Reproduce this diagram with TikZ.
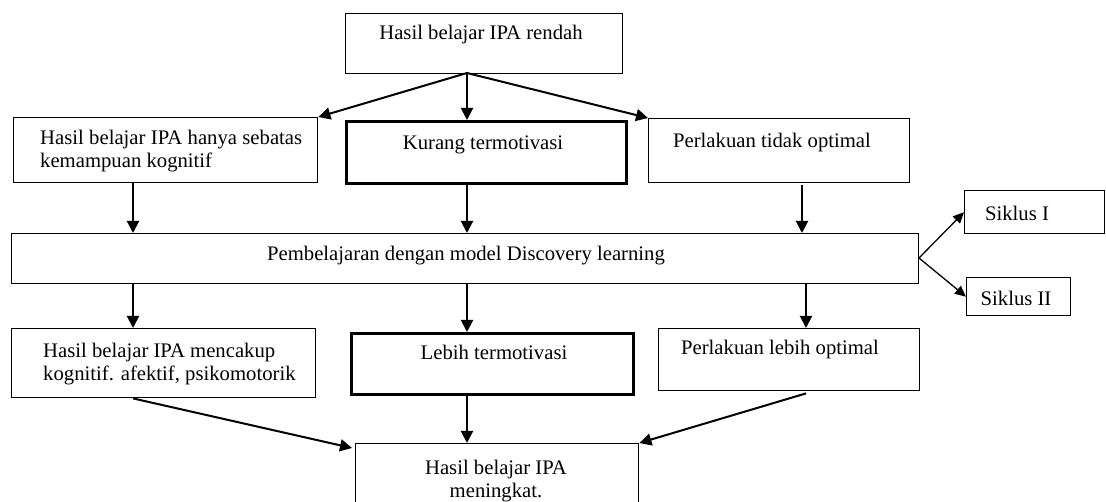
\documentclass[tikz,border=0pt]{standalone}
\usepackage{fontspec}
\setmainfont{Liberation Serif}
\usetikzlibrary{arrows.meta}
\begin{document}
\begin{tikzpicture}[x=1pt,y=-1pt,
  box/.style={draw=black,line width=1.4pt,anchor=north west,inner sep=0pt},
  thickbox/.style={box,line width=2.6pt},
  txt/.style={inner sep=0pt,font=\fontsize{20.7}{23.5}\selectfont},
  arr/.style={line width=2pt,-{Triangle[length=12pt,width=12pt]}},
  sarr/.style={line width=1.3pt,-{Triangle[length=11pt,width=10pt]}}]
\useasboundingbox[fill=white] (0,0) rectangle (1106,502);
% boxes
\node[box,minimum width=277pt,minimum height=60pt] (top) at (345,13) {};
\node[box,minimum width=304pt,minimum height=65pt] (L1) at (13,117) {};
\node[thickbox,minimum width=280pt,minimum height=62pt] (M1) at (345,120) {};
\node[box,minimum width=261pt,minimum height=64pt] (R1) at (648,118) {};
\node[box,minimum width=907pt,minimum height=50pt] (main) at (11,233) {};
\node[box,minimum width=140pt,minimum height=43pt] (s1) at (964,190) {};
\node[box,minimum width=104pt,minimum height=38pt] (s2) at (966,277) {};
\node[box,minimum width=304pt,minimum height=69pt] (L3) at (11,328) {};
\node[thickbox,minimum width=282pt,minimum height=61pt] (M3) at (350,332) {};
\node[box,minimum width=261pt,minimum height=62pt] (R3) at (658,328) {};
\node[box,minimum width=283pt,minimum height=62pt] (bot) at (355,443) {};
% texts
\node[txt] (topt) at (481,35) {Hasil belajar IPA rendah};
\node[txt,anchor=west,align=left] (L1t) at (40,151) {\makebox[262pt][s]{Hasil belajar IPA hanya sebatas}\\kemampuan kognitif};
\node[txt] (M1t) at (483,145) {Kurang termotivasi};
\node[txt] (R1t) at (772,143) {Perlakuan tidak optimal};
\node[txt] (maint) at (466,256) {Pembelajaran dengan model Discovery learning};
\node[txt] (s1t) at (1017,213) {Siklus I};
\node[txt] (s2t) at (1016,298) {Siklus II};
\node[txt,anchor=west,align=left] (L3t) at (43,364) {Hasil belajar IPA mencakup\\kognitif. afektif, psikomotorik};
\node[txt] (M3t) at (494,352) {Lebih termotivasi};
\node[txt] (R3t) at (780,350) {Perlakuan lebih optimal};
\node[txt,align=center] (bott) at (496,481) {Hasil belajar IPA\\meningkat.};
% helper coordinates
\coordinate (fork) at (467,73);
\coordinate (xa) at (133,0);
\coordinate (xb) at (467,0);
\coordinate (xc) at (802,0);
\coordinate (xd) at (806,0);
\coordinate (sf) at (919,258);
% connectors
\draw[arr] (fork) -- (L1.north east);
\draw[arr] (fork) -- (M1.north -| fork);
\draw[arr] (fork) -- (R1.north west);
\draw[arr] (L1.south -| xa) -- (main.north -| xa);
\draw[arr] (M1.south -| xb) -- (main.north -| xb);
\draw[arr] ([yshift=-2pt]R1.south -| xc) -- (main.north -| xc);
\draw[sarr] (sf) -- (s1.west);
\draw[sarr] (sf) -- (s2.west);
\draw[arr] (main.south -| xa) -- (L3.north -| xa);
\draw[arr] (main.south -| xb) -- (M3.north -| xb);
\draw[arr] (main.south -| xd) -- (R3.north -| xd);
\draw[arr] (L3.south -| xa) -- ([xshift=-3pt,yshift=-5pt]bot.north west);
\draw[arr] (M3.south -| xb) -- (bot.north -| xb);
\draw[arr] ([yshift=-2pt]R3.south -| xd) -- (bot.north east);
\end{tikzpicture}
\end{document}
